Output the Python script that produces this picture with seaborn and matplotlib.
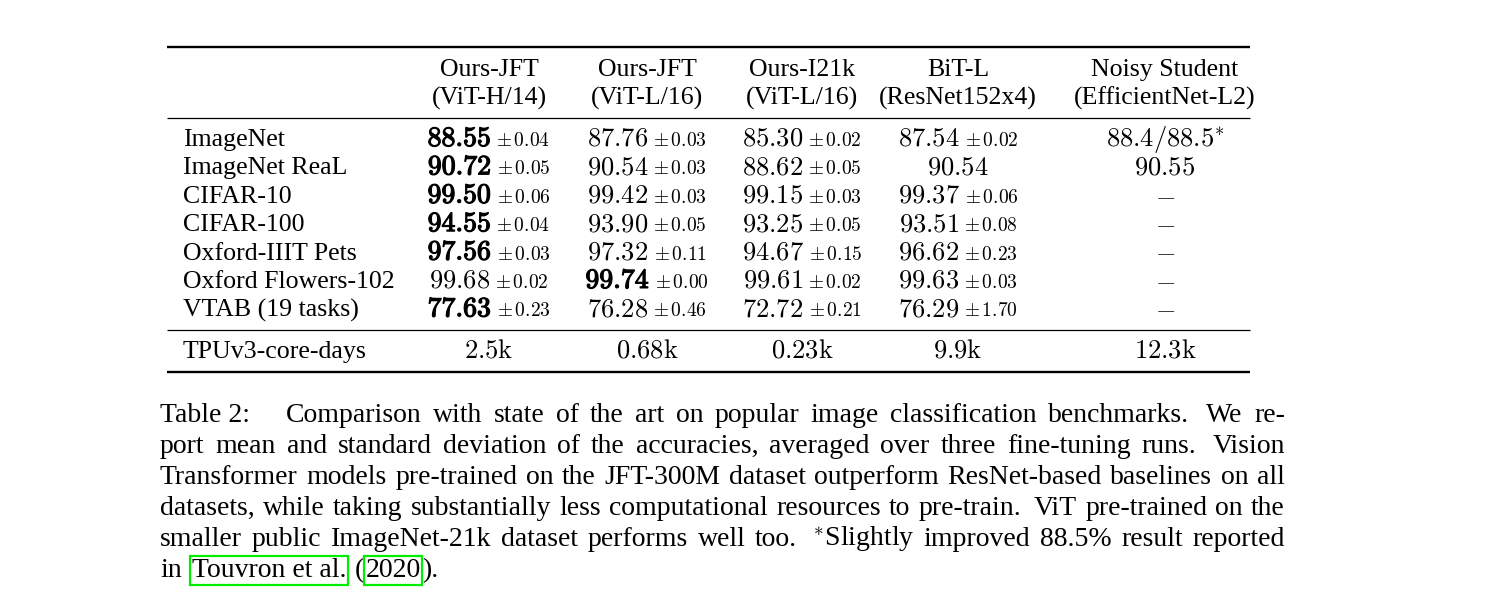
import numpy as np
import matplotlib
matplotlib.use("Agg")
import matplotlib.pyplot as plt
import matplotlib.patheffects as pe
import seaborn as sns

# Table data
datasets = ["ImageNet", "ImageNet ReaL", "CIFAR-10", "CIFAR-100",
            "Oxford-IIIT Pets", "Oxford Flowers-102", "VTAB (19 tasks)"]
model_names = ["Ours-JFT", "Ours-JFT", "Ours-I21k", "BiT-L", "Noisy Student"]
model_archs = ["(ViT-H/14)", "(ViT-L/16)", "(ViT-L/16)", "(ResNet152x4)", "(EfficientNet-L2)"]

vit_h14_mean = [88.55, 90.72, 99.50, 94.55, 97.56, 99.68, 77.63]
vit_h14_std = [0.04, 0.05, 0.06, 0.04, 0.03, 0.02, 0.23]
vit_l16_mean = [87.76, 90.54, 99.42, 93.90, 97.32, 99.74, 76.28]
vit_l16_std = [0.03, 0.03, 0.03, 0.05, 0.11, 0.00, 0.46]
i21k_mean = [85.30, 88.62, 99.15, 93.25, 94.67, 99.61, 72.72]
i21k_std = [0.02, 0.05, 0.03, 0.05, 0.15, 0.02, 0.21]
bit_mean = [87.54, 90.54, 99.37, 93.51, 96.62, 99.63, 76.29]
bit_std = [0.02, None, 0.06, 0.08, 0.23, 0.03, 1.70]
noisy_student = ["88.4/88.5*", "90.55", "-", "-", "-", "-", "-"]
tpu_core_days = ["2.5k", "0.68k", "0.23k", "9.9k", "12.3k"]

caption_lines = [
    "Comparison with state of the art on popular image classification benchmarks. We re-",
    "port mean and standard deviation of the accuracies, averaged over three fine-tuning runs. Vision",
    "Transformer models pre-trained on the JFT-300M dataset outperform ResNet-based baselines on all",
    "datasets, while taking substantially less computational resources to pre-train. ViT pre-trained on the",
    "smaller public ImageNet-21k dataset performs well too. ${}^{*}$Slightly improved 88.5% result reported",
]

sns.set_theme(style="white")
plt.rcParams["font.family"] = ["Liberation Serif", "DejaVu Serif"]
plt.rcParams["mathtext.fontset"] = "cm"
plt.rcParams["text.color"] = "black"

fig = plt.figure(figsize=(15.04, 6.1), dpi=100)
ax = fig.add_axes([0, 0, 1, 1])
ax.set_xlim(0, 1504)
ax.set_ylim(610, 0)
ax.axis("off")
renderer = fig.canvas.get_renderer()

TXT = 18.6
NUM = 19.1
BOLD = 20.0
SMALL = 14.0
CAP = 20.0
bold_fx = [pe.withStroke(linewidth=0.9, foreground="black")]


def width(t):
    return t.get_window_extent(renderer).width


def centered(xc, y, pieces):
    # pieces: (string, size, gap_before, bold)
    items = []
    for s, size, gap, bold in pieces:
        t = ax.text(0, y, s, fontsize=size, va="baseline", ha="left")
        if bold:
            t.set_path_effects(bold_fx)
        items.append((t, width(t), gap))
    total = sum(w + g for _, w, g in items)
    x = xc - total / 2
    for t, w, g in items:
        x += g
        t.set_x(x)
        x += w


# columns
col_x = [489, 647, 802, 958, 1165]
label_x = 183
rule_x0, rule_x1 = 167, 1250

ax.hlines([47, 372], rule_x0, rule_x1, color="black", lw=1.7)
ax.hlines([118, 330], rule_x0, rule_x1, color="black", lw=0.9)

for xc, name, arch in zip(col_x, model_names, model_archs):
    ax.text(xc, 76, name, fontsize=TXT, ha="center", va="baseline")
    ax.text(xc, 105, arch, fontsize=TXT, ha="center", va="baseline")

means = np.array([vit_h14_mean, vit_l16_mean, i21k_mean, bit_mean])
stds = [vit_h14_std, vit_l16_std, i21k_std, bit_std]
best = means.argmax(axis=0)

row_y = [146 + i * 28.4 for i in range(len(datasets))]
for i, (name, y) in enumerate(zip(datasets, row_y)):
    ax.text(label_x, y, name, fontsize=TXT, ha="left", va="baseline")
    for j in range(4):
        m = "%.2f" % means[j, i]
        is_best = best[i] == j
        if is_best:
            pieces = [(r"$\mathbf{%s}$" % m, BOLD, 0, True)]
        else:
            pieces = [("$%s$" % m, NUM, 0, False)]
        if stds[j][i] is not None:
            pieces.append((r"$\pm\,%.2f$" % stds[j][i], SMALL, 5, False))
        centered(col_x[j], y, pieces)
    cell = noisy_student[i]
    if cell == "-":
        ax.text(col_x[4], y, "$-$", fontsize=19, ha="center", va="baseline")
    elif cell.endswith("*"):
        ax.text(col_x[4], y, "$%s^{*}$" % cell[:-1], fontsize=NUM, ha="center", va="baseline")
    else:
        ax.text(col_x[4], y, "$%s$" % cell, fontsize=NUM, ha="center", va="baseline")

ax.text(label_x, 358, "TPUv3-core-days", fontsize=TXT, ha="left", va="baseline")
for xc, v in zip(col_x, tpu_core_days):
    ax.text(xc, 358, r"$%s\mathrm{k}$" % v[:-1], fontsize=NUM, ha="center", va="baseline")

# caption, justified
cap_left, cap_right = 160, 1285
cap_y = [422 + i * 31 for i in range(6)]
ax.text(cap_left, cap_y[0], "Table 2:", fontsize=CAP, va="baseline")
for k, line in enumerate(caption_lines):
    x0 = 286 if k == 0 else cap_left
    words = line.split(" ")
    ts = [ax.text(x0, cap_y[k], w, fontsize=CAP, va="baseline") for w in words]
    ws = [width(t) for t in ts]
    weights = [1.5 if w.endswith(".") else 1.0 for w in words[:-1]]
    unit = (cap_right - x0 - sum(ws)) / sum(weights)
    x = x0
    for idx, (t, w) in enumerate(zip(ts, ws)):
        t.set_x(x)
        if idx < len(weights):
            x += w + unit * weights[idx]

# last line with link boxes
t1 = ax.text(300, 300, "a a", fontsize=CAP)
t2 = ax.text(300, 300, "a", fontsize=CAP)
space = width(t1) - 2 * width(t2)
t1.remove()
t2.remove()
box = dict(boxstyle="square,pad=0.06", fc="none", ec="#00ee00", lw=1.6)
x = cap_left
for s, boxed, gap in [("in", False, 0), ("Touvron et al.", True, space + 3),
                      ("(", False, space + 2), ("2020", True, 1), (").", False, 1)]:
    x += gap
    t = ax.text(x, cap_y[5], s, fontsize=CAP, va="baseline", bbox=box if boxed else None)
    x += width(t)

plt.savefig("out.png", dpi=100)
